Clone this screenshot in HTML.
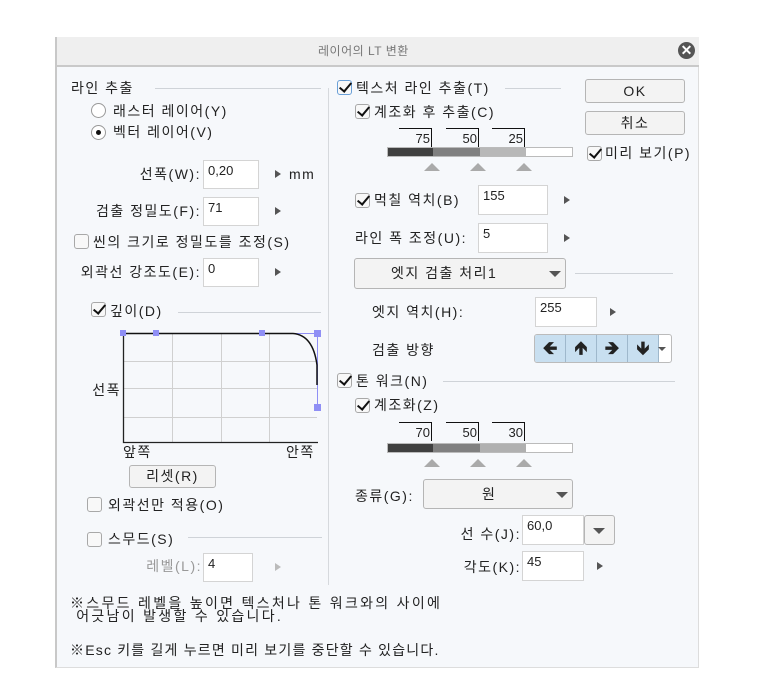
<!DOCTYPE html>
<html><head><meta charset="utf-8"><style>
body{margin:0;width:767px;height:697px;background:#fff;position:relative;overflow:hidden;font-family:"Liberation Sans","Noto Sans CJK KR","NanumGothic",sans-serif;font-size:14px;color:#222}
.a{position:absolute}
.t{position:absolute;white-space:nowrap;line-height:15px;letter-spacing:1.5px}
.in{position:absolute;background:#fff;border:1px solid #d4d4d4;box-sizing:border-box;padding:3px 0 0 4px;font-size:13px;line-height:14px}
.ar{position:absolute;width:0;height:0;border-top:4px solid transparent;border-bottom:4px solid transparent;border-left:6px solid #555}
.cb{position:absolute;width:15px;height:15px;border:1px solid #a8a8a8;border-radius:3px;background:#f8f8f8;box-sizing:border-box}
.ck::after{content:"";position:absolute;left:4px;top:-1px;width:5px;height:10px;border-right:2.5px solid #111;border-bottom:2.5px solid #111;transform:rotate(40deg)}
.ln{position:absolute;height:1px;background:#cfd3d8}
.btn{position:absolute;border:1px solid #b5b5b5;border-radius:3px;background:#f3f3f3;box-sizing:border-box;text-align:center;letter-spacing:1.5px}
.dd{position:absolute;width:0;height:0;border-left:6px solid transparent;border-right:6px solid transparent;border-top:6px solid #555}
.tri{position:absolute;width:0;height:0;border-left:8px solid transparent;border-right:8px solid transparent;border-bottom:8px solid #aaa}
.th{position:absolute;border-top:1px solid #111;border-right:1px solid #111;height:19px;width:33px;text-align:right;font-size:13px;line-height:19px;padding-right:1px;box-sizing:border-box}
</style></head><body>
<div class="a" style="left:55px;top:37px;width:644px;height:631px;background:#f6f8fb;border-left:2px solid #c8c8c8;border-right:1px solid #ddd;border-bottom:1px solid #ddd;box-sizing:border-box"></div>
<div class="a" style="left:57px;top:37px;width:642px;height:28px;background:#efefef;border-bottom:2px solid #c9c9c9"></div>
<div class="t" style="left:318px;top:44px;font-size:12px;color:#777;letter-spacing:0.5px">레이어의 LT 변환</div>
<div class="a" style="left:678px;top:42px;width:17px;height:17px;border-radius:50%;background:#555;color:#fff;font-size:14px;line-height:17px;text-align:center;font-weight:bold">✕</div>

<!-- left -->
<div class="t" style="left:71px;top:81px">라인 추출</div>
<div class="ln" style="left:155px;top:88px;width:166px"></div>
<div class="a" style="left:328px;top:88px;width:1px;height:497px;background:#d6d9dd"></div>
<div class="a" style="left:91px;top:103px;width:15px;height:15px;border:1px solid #999;border-radius:50%;background:#fff;box-sizing:border-box"></div>
<div class="t" style="left:113px;top:104px">래스터 레이어(Y)</div>
<div class="a" style="left:91px;top:125px;width:15px;height:15px;border:1px solid #999;border-radius:50%;background:#fff;box-sizing:border-box"></div>
<div class="a" style="left:96px;top:130px;width:5px;height:5px;border-radius:50%;background:#111"></div>
<div class="t" style="left:113px;top:125px">벡터 레이어(V)</div>
<div class="t" style="right:566px;top:167px">선폭(W):</div>
<div class="in" style="left:203px;top:160px;width:56px;height:29px">0,20</div>
<div class="ar" style="left:275px;top:170px"></div>
<div class="t" style="left:289px;top:167px">mm</div>
<div class="t" style="right:566px;top:204px">검출 정밀도(F):</div>
<div class="in" style="left:203px;top:197px;width:56px;height:29px">71</div>
<div class="ar" style="left:275px;top:207px"></div>
<div class="cb" style="left:74px;top:234px"></div>
<div class="t" style="left:93px;top:235px">씬의 크기로 정밀도를 조정(S)</div>
<div class="t" style="right:566px;top:265px">외곽선 강조도(E):</div>
<div class="in" style="left:203px;top:258px;width:56px;height:29px">0</div>
<div class="ar" style="left:275px;top:268px"></div>
<div class="cb ck" style="left:91px;top:302px"></div>
<div class="t" style="left:110px;top:304px">깊이(D)</div>
<div class="ln" style="left:178px;top:312px;width:143px"></div>
<svg class="a" style="left:115px;top:325px" width="210" height="125">
<g stroke="#d0d0d0" stroke-width="1">
<line x1="57.5" y1="8" x2="57.5" y2="117"/><line x1="106.5" y1="8" x2="106.5" y2="117"/><line x1="154.5" y1="8" x2="154.5" y2="117"/>
<line x1="8" y1="36.5" x2="202" y2="36.5"/><line x1="8" y1="63.5" x2="202" y2="63.5"/><line x1="8" y1="92.5" x2="202" y2="92.5"/>
</g>
<path d="M8.5 8 V117.5 H203" fill="none" stroke="#222" stroke-width="1.3"/>
<path d="M147 8.5 H202.5 V82" fill="none" stroke="#8f8ff5" stroke-width="1"/>
<path d="M8.5 8.5 H178 Q198 10 202 40 L202 60" fill="none" stroke="#111" stroke-width="1.5"/>
<g fill="#8f8ff5"><rect x="5" y="5" width="6" height="6"/><rect x="38" y="5" width="6" height="6"/><rect x="144" y="5" width="6" height="6"/><rect x="199" y="5" width="7" height="7"/><rect x="199" y="79" width="7" height="7"/></g>
</svg>
<div class="t" style="right:646px;top:383px">선폭</div>
<div class="t" style="left:123px;top:445px">앞쪽</div>
<div class="t" style="left:286px;top:445px">안쪽</div>
<div class="btn" style="left:129px;top:465px;width:87px;height:23px;line-height:21px">리셋(R)</div>
<div class="cb" style="left:87px;top:497px"></div>
<div class="t" style="left:108px;top:498px">외곽선만 적용(O)</div>
<div class="cb" style="left:87px;top:532px"></div>
<div class="t" style="left:108px;top:532px">스무드(S)</div>
<div class="ln" style="left:188px;top:537px;width:134px"></div>
<div class="t" style="right:565px;top:559px;color:#999">레벨(L):</div>
<div class="in" style="left:203px;top:553px;width:50px;height:29px">4</div>
<div class="ar" style="left:275px;top:563px;border-left-color:#bbb"></div>
<div class="t" style="left:70px;top:597px;line-height:13px;letter-spacing:2.3px">※스무드 레벨을 높이면 텍스처나 톤 워크와의 사이에<br>&nbsp;어긋남이 발생할 수 있습니다.</div>
<div class="t" style="left:70px;top:643px;letter-spacing:1.2px">※Esc 키를 길게 누르면 미리 보기를 중단할 수 있습니다.</div>

<!-- right -->
<div class="cb ck" style="left:337px;top:80px;border-color:#6aa0d8"></div>
<div class="t" style="left:356px;top:81px">텍스처 라인 추출(T)</div>
<div class="ln" style="left:505px;top:88px;width:56px"></div>
<div class="btn" style="left:585px;top:79px;width:100px;height:24px;line-height:22px">OK</div>
<div class="btn" style="left:585px;top:111px;width:100px;height:24px;line-height:22px">취소</div>
<div class="cb ck" style="left:587px;top:146px"></div>
<div class="t" style="left:605px;top:146px">미리 보기(P)</div>
<div class="cb ck" style="left:355px;top:104px"></div>
<div class="t" style="left:374px;top:105px">계조화 후 추출(C)</div>
<div class="th" style="left:399px;top:128px">75</div>
<div class="th" style="left:446px;top:128px">50</div>
<div class="th" style="left:492px;top:128px">25</div>
<div class="a" style="left:387px;top:147px;width:186px;height:10px;border:1px solid #bbb;box-sizing:border-box;background:linear-gradient(90deg,#404040 0 45px,#808080 45px 92px,#b8b8b8 92px 138px,#fff 138px)"></div>
<div class="tri" style="left:424px;top:163px"></div>
<div class="tri" style="left:470px;top:163px"></div>
<div class="tri" style="left:516px;top:163px"></div>
<div class="cb ck" style="left:355px;top:193px"></div>
<div class="t" style="left:374px;top:193px">먹칠 역치(B)</div>
<div class="in" style="left:478px;top:185px;width:70px;height:30px">155</div>
<div class="ar" style="left:564px;top:196px"></div>
<div class="t" style="left:355px;top:231px">라인 폭 조정(U):</div>
<div class="in" style="left:478px;top:223px;width:70px;height:30px">5</div>
<div class="ar" style="left:564px;top:234px"></div>
<div class="btn" style="left:354px;top:258px;width:212px;height:31px;line-height:29px;text-align:left;padding-left:36px">엣지 검출 처리1</div>
<div class="dd" style="left:549px;top:271px"></div>
<div class="ln" style="left:575px;top:273px;width:98px"></div>
<div class="t" style="left:372px;top:305px">엣지 역치(H):</div>
<div class="in" style="left:535px;top:297px;width:62px;height:30px">255</div>
<div class="ar" style="left:610px;top:308px"></div>
<div class="t" style="left:372px;top:343px">검출 방향</div>
<div class="a" style="left:534px;top:334px;width:138px;height:29px;border:1px solid #bbb;border-radius:3px;background:#fff;box-sizing:border-box;overflow:hidden;display:flex">
<div style="width:30px;background:#c8dff0;border-right:1px solid #9fb8cc;text-align:center;line-height:27px;font-size:18px;font-weight:bold">🡸</div>
<div style="width:30px;background:#c8dff0;border-right:1px solid #9fb8cc;text-align:center;line-height:27px;font-size:18px;font-weight:bold">🡹</div>
<div style="width:30px;background:#c8dff0;border-right:1px solid #9fb8cc;text-align:center;line-height:27px;font-size:18px;font-weight:bold">🡺</div>
<div style="width:30px;background:#c8dff0;border-right:1px solid #9fb8cc;text-align:center;line-height:27px;font-size:18px;font-weight:bold">🡻</div>
</div>
<div class="dd" style="left:658px;top:347px;border-left-width:4px;border-right-width:4px;border-top-width:4px"></div>
<div class="cb ck" style="left:337px;top:373px"></div>
<div class="t" style="left:356px;top:374px">톤 워크(N)</div>
<div class="ln" style="left:443px;top:381px;width:232px"></div>
<div class="cb ck" style="left:355px;top:398px"></div>
<div class="t" style="left:374px;top:398px">계조화(Z)</div>
<div class="th" style="left:399px;top:422px">70</div>
<div class="th" style="left:446px;top:422px">50</div>
<div class="th" style="left:492px;top:422px">30</div>
<div class="a" style="left:387px;top:443px;width:186px;height:10px;border:1px solid #bbb;box-sizing:border-box;background:linear-gradient(90deg,#404040 0 45px,#808080 45px 92px,#b0b0b0 92px 138px,#fff 138px)"></div>
<div class="tri" style="left:424px;top:459px"></div>
<div class="tri" style="left:470px;top:459px"></div>
<div class="tri" style="left:516px;top:459px"></div>
<div class="t" style="left:355px;top:489px">종류(G):</div>
<div class="btn" style="left:423px;top:479px;width:150px;height:30px;line-height:28px;text-align:left;padding-left:58px">원</div>
<div class="dd" style="left:556px;top:492px"></div>
<div class="t" style="right:246px;top:527px">선 수(J):</div>
<div class="in" style="left:522px;top:515px;width:62px;height:30px">60,0</div>
<div class="btn" style="left:584px;top:515px;width:31px;height:30px"></div>
<div class="dd" style="left:593px;top:528px"></div>
<div class="t" style="right:246px;top:560px">각도(K):</div>
<div class="in" style="left:522px;top:551px;width:62px;height:30px">45</div>
<div class="ar" style="left:597px;top:562px"></div>
</body></html>
